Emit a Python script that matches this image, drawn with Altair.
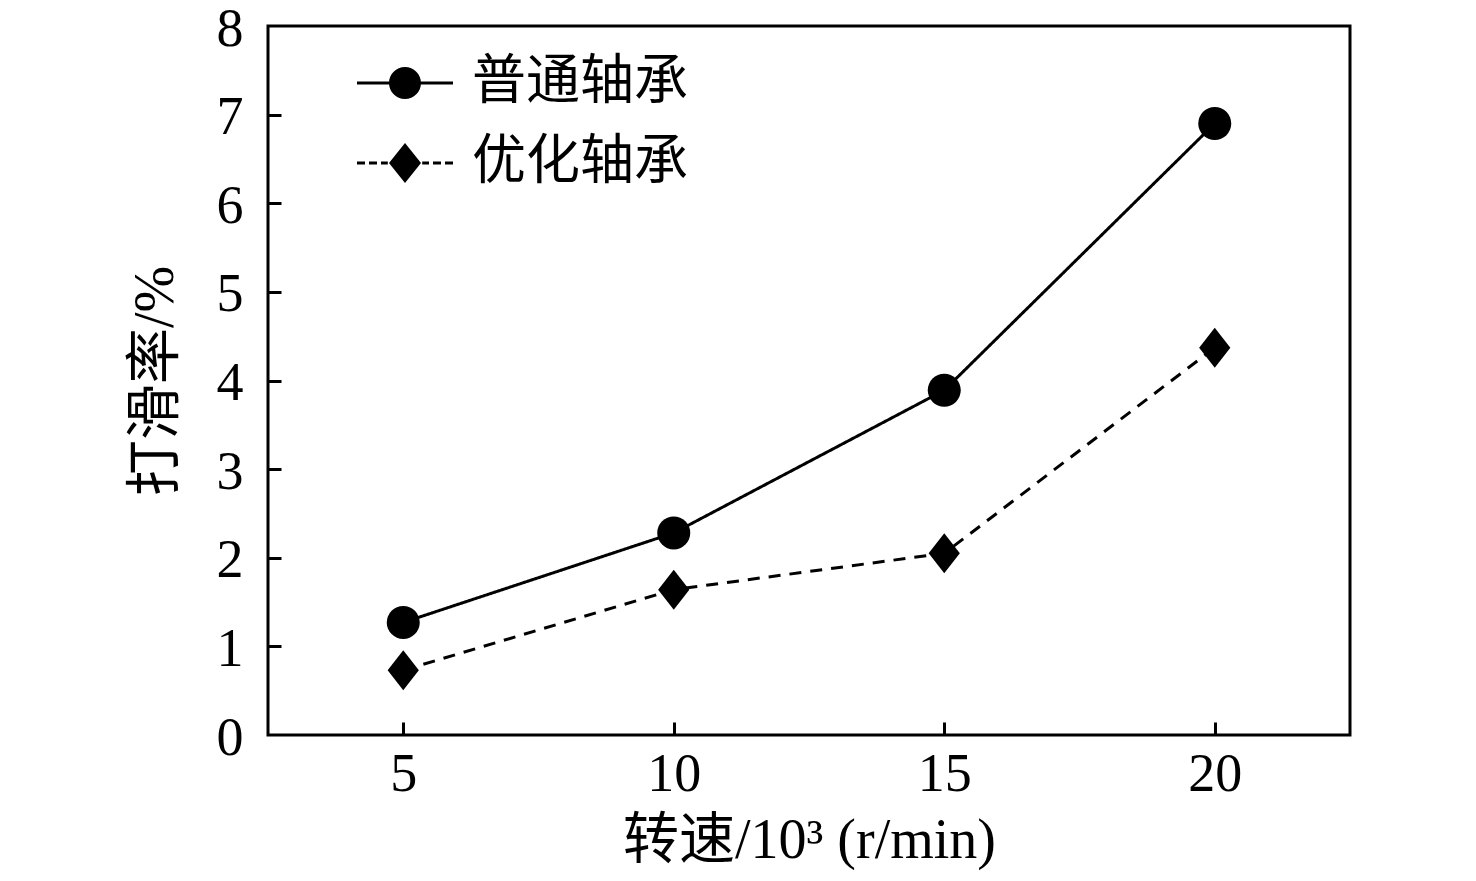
import altair as alt
import pandas as pd

# ---- data ----
speed = [5, 10, 15, 20]
normal_bearing = [1.27, 2.28, 3.89, 6.90]
optimized_bearing = [0.73, 1.64, 2.05, 4.37]
series_names = ["普通轴承", "优化轴承"]
x_ticks = [5, 10, 15, 20]
y_ticks = [0, 1, 2, 3, 4, 5, 6, 7, 8]
inner_y_ticks = [1, 2, 3, 4, 5, 6, 7]

rows = []
for s, v in zip(speed, normal_bearing):
    rows.append({"speed": s, "slip": v, "series": series_names[0]})
for s, v in zip(speed, optimized_bearing):
    rows.append({"speed": s, "slip": v, "series": series_names[1]})
df = pd.DataFrame(rows)

W, H = 1082, 709
FONT = "Liberation Serif, Noto Sans CJK SC"

xs = alt.Scale(domain=[2.5, 22.5], nice=False, zero=False)
ys = alt.Scale(domain=[0, 8], nice=False, zero=False)


def bar(a, b, t=0.075):
    return f"M{a},{-t}L{b},{-t}L{b},{t}L{a},{t}Z"


# legend symbols (fill-only custom paths, unit r = sqrt(size)/2): line + marker
circle_leg = (bar(-2.4, -0.78) + bar(0.78, 2.4)
              + "M0.8,0A0.8,0.8,0,1,1,-0.8,0A0.8,0.8,0,1,1,0.8,0Z")
diamond_leg = (bar(-2.4, -2.0) + bar(-1.8, -1.4) + bar(-1.2, -0.86)
               + bar(0.86, 1.2) + bar(1.4, 1.8) + bar(2.0, 2.4)
               + "M0,-1L0.8,0L0,1L-0.8,0Z")
diamond_mark = "M0,-1L0.78,0L0,1L-0.78,0Z"

lines = alt.Chart(df).mark_line(color="black", strokeWidth=3).encode(
    x=alt.X("speed:Q", scale=xs,
            axis=alt.Axis(orient="bottom", values=x_ticks, ticks=False, tickSize=0,
                          domain=False, grid=False, labelFontSize=54, labelFont=FONT,
                          labelColor="black", labelPadding=12,
                          title="转速/10³ (r/min)", titleFont=FONT, titleFontSize=56,
                          titleFontWeight="normal", titleColor="black", titlePadding=12)),
    y=alt.Y("slip:Q", scale=ys,
            axis=alt.Axis(orient="left", values=y_ticks, ticks=False, tickSize=0,
                          domain=False, grid=False, labelFontSize=54, labelFont=FONT,
                          labelColor="black", labelPadding=25, labelOffset=3,
                          title="打滑率/%", titleFont=FONT, titleFontSize=56,
                          titleFontWeight="normal", titleColor="black", titlePadding=32)),
    strokeDash=alt.StrokeDash("series:N",
                              scale=alt.Scale(domain=series_names, range=[[1, 0], [12, 9]]),
                              legend=None),
    detail="series:N",
)

points = alt.Chart(df).mark_point(filled=True, color="black", opacity=1, strokeWidth=0).encode(
    x=alt.X("speed:Q", scale=xs,
            axis=alt.Axis(orient="top", offset=-H, values=x_ticks, labels=False,
                          domain=False, grid=False, tickSize=13, tickWidth=3,
                          tickColor="black", title=None)),
    y=alt.Y("slip:Q", scale=ys,
            axis=alt.Axis(orient="right", offset=-W, values=inner_y_ticks, labels=False,
                          domain=False, grid=False, tickSize=13, tickWidth=3,
                          tickColor="black", title=None)),
    shape=alt.Shape("series:N",
                    scale=alt.Scale(domain=series_names, range=["circle", diamond_mark]),
                    legend=None),
    size=alt.Size("series:N",
                  scale=alt.Scale(domain=series_names, range=[1089, 1600]),
                  legend=None),
)

# legend-only layer: no rows survive the filter, entries come from the explicit domain
legend_layer = alt.Chart(df).transform_filter("datum.slip < 0").mark_point(
    filled=True, color="black", opacity=1
).encode(
    x=alt.X("speed:Q", scale=xs, axis=None),
    y=alt.Y("slip:Q", scale=ys, axis=None),
    shape=alt.Shape("series:N",
                    scale=alt.Scale(domain=series_names, range=[circle_leg, diamond_leg]),
                    legend=alt.Legend(orient="none", legendX=110, legendY=30, title=None,
                                      symbolSize=1600, symbolStrokeWidth=0,
                                      symbolFillColor="black",
                                      symbolOpacity=1, labelFont=FONT, labelFontSize=54,
                                      labelColor="black", labelOffset=40, rowPadding=26,
                                      padding=0, labelLimit=400)),
)

chart = alt.layer(lines, points, legend_layer).resolve_axis(
    x="independent", y="independent"
).resolve_scale(shape="independent").properties(
    width=W, height=H,
    autosize=alt.AutoSizeParams(type="none"),
    padding={"left": 260, "top": 18, "right": 100, "bottom": 146},
    background="white",
).configure_view(stroke="black", strokeWidth=3)

chart.save("out.html", embed_options={"renderer": "svg", "actions": False})
